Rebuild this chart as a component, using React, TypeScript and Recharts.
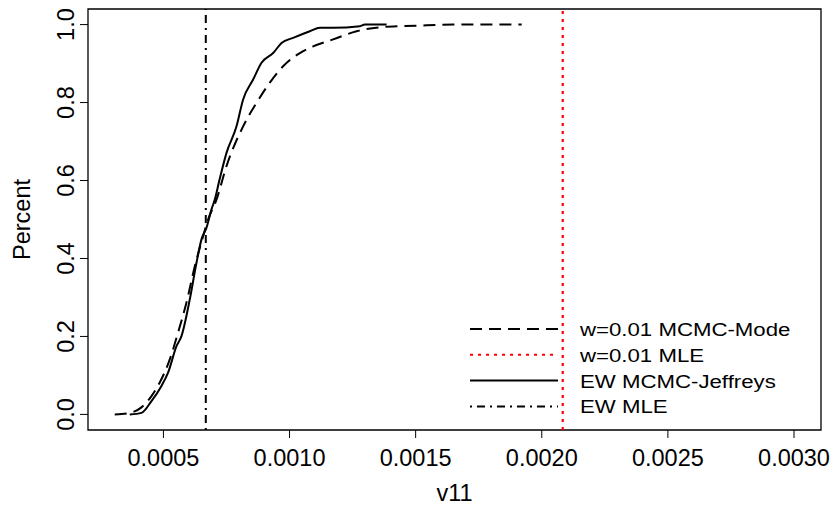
import { Label, Line, LineChart, ReferenceArea, ReferenceLine, XAxis, YAxis } from "recharts";

// ECDF of v11
const modeX = [
  0.000307, 0.0003665, 0.0004129, 0.0004526, 0.0004855, 0.0005252, 0.0005581, 0.0005914,
  0.0006244, 0.0006573, 0.0006771, 0.0007104, 0.0007501, 0.000816, 0.0008691, 0.0009219,
  0.0009746, 0.0010409, 0.0010936, 0.0011729, 0.0012658, 0.0013582, 0.0014506, 0.0015434,
  0.001649, 0.0019203,
];
const modeY = [
  0, 0.004, 0.018, 0.047, 0.082, 0.141, 0.21, 0.287, 0.38, 0.457, 0.5, 0.551, 0.637, 0.739,
  0.799, 0.851, 0.893, 0.927, 0.944, 0.962, 0.983, 0.993, 0.996, 0.998, 1, 1,
];

const jeffreysX = [
  0.0003665, 0.0004129, 0.0004526, 0.0004923, 0.0005184, 0.0005518, 0.0005716, 0.0006045,
  0.0006311, 0.0006509, 0.0006708, 0.0006906, 0.0007037, 0.0007235, 0.0007501, 0.0007898,
  0.000816, 0.0008556, 0.0008889, 0.000935, 0.0009683, 0.0010143, 0.0010805, 0.0011202,
  0.0011729, 0.0012789, 0.0012987, 0.0013848,
];
const jeffreysY = [
  0, 0.004, 0.034, 0.073, 0.107, 0.175, 0.201, 0.295, 0.389, 0.449, 0.479, 0.526, 0.551, 0.605,
  0.671, 0.739, 0.808, 0.859, 0.902, 0.927, 0.953, 0.966, 0.983, 0.992, 0.992, 0.996, 1, 1,
];

const w001Mle = 0.002083;
const ewMle = 0.000668;

const xTicks = [0.0005, 0.001, 0.0015, 0.002, 0.0025, 0.003];
const yTicks = [0, 0.2, 0.4, 0.6, 0.8, 1];
const xDomain = [0.000201, 0.003107];
const yDomain = [-0.04, 1.04];

const legendItems = [
  { label: "w=0.01 MCMC-Mode", color: "#000", dash: "12 7" },
  { label: "w=0.01 MLE", color: "#ff0000", dash: "3 5" },
  { label: "EW MCMC-Jeffreys", color: "#000", dash: undefined },
  { label: "EW MLE", color: "#000", dash: "2 5 8 5" },
];

const FONT = "'Liberation Sans', Arial, sans-serif";

const modeData = modeX.map((x, i) => ({ x, y: modeY[i] }));
const jeffreysData = jeffreysX.map((x, i) => ({ x, y: jeffreysY[i] }));

function YTick(props: any) {
  const { x, y, payload } = props;
  return (
    <text
      x={x - 4}
      y={y}
      transform={`rotate(-90, ${x - 4}, ${y})`}
      textAnchor="middle"
      fontSize={23.5}
      fontFamily={FONT}
      fill="#000"
    >
      {payload.value.toFixed(1)}
    </text>
  );
}

function LegendBox() {
  return (
    <svg width={370} height={115} style={{ position: "absolute", left: 460, top: 312 }}>
      {legendItems.map((item, i) => {
        const cy = 17 + i * 25.8;
        return (
          <g key={item.label}>
            <line
              x1={10}
              x2={98}
              y1={cy}
              y2={cy}
              stroke={item.color}
              strokeWidth={2}
              strokeDasharray={item.dash}
            />
            <text
              x={0}
              y={cy + 7}
              transform={`translate(120,0) scale(1.17,1)`}
              fontSize={19}
              fontFamily={FONT}
              fill="#000"
            >
              {item.label}
            </text>
          </g>
        );
      })}
    </svg>
  );
}

export default function App() {
  return (
    <div style={{ position: "absolute", left: 0, top: 0, width: 832, height: 506, background: "#fff" }}>
      <LineChart width={832} height={506} margin={{ top: 9, right: 11, bottom: 0, left: 0 }}>
        <XAxis
          type="number"
          dataKey="x"
          domain={xDomain}
          allowDataOverflow
          ticks={xTicks}
          tickFormatter={(v: number) => v.toFixed(4)}
          axisLine={false}
          tickSize={8}
          tickMargin={11}
          tickLine={{ stroke: "#000" }}
          tick={{ fill: "#000", fontSize: 23.5, fontFamily: FONT }}
          height={76}
        >
          <Label value="v11" position="insideBottom" offset={5} fill="#000" fontSize={23.5} fontFamily={FONT} />
        </XAxis>
        <YAxis
          type="number"
          dataKey="y"
          domain={yDomain}
          allowDataOverflow
          ticks={yTicks}
          axisLine={false}
          tickSize={8}
          tickMargin={2}
          tickLine={{ stroke: "#000" }}
          tick={<YTick />}
          width={88}
          label={{
            content: (p: any) => {
              const vb = p.viewBox;
              const cx = 29.5;
              const cy = vb.y + vb.height / 2;
              return (
                <text
                  x={cx}
                  y={cy}
                  transform={`rotate(-90, ${cx}, ${cy})`}
                  textAnchor="middle"
                  fontSize={23.5}
                  fontFamily={FONT}
                  fill="#000"
                >
                  Percent
                </text>
              );
            },
          }}
        />
        <ReferenceArea
          x1={xDomain[0]}
          x2={xDomain[1]}
          y1={yDomain[0]}
          y2={yDomain[1]}
          fill="none"
          stroke="#000"
          strokeWidth={1.3}
          ifOverflow="visible"
        />
        <ReferenceLine x={w001Mle} stroke="#ff0000" strokeWidth={2.2} strokeDasharray="3 5" />
        <ReferenceLine x={ewMle} stroke="#000" strokeWidth={2} strokeDasharray="2 5 8 5" />
        <Line
          data={modeData}
          dataKey="y"
          type="monotone"
          stroke="#000"
          strokeWidth={2}
          strokeDasharray="12 7"
          dot={false}
          isAnimationActive={false}
        />
        <Line
          data={jeffreysData}
          dataKey="y"
          type="monotone"
          stroke="#000"
          strokeWidth={2}
          dot={false}
          isAnimationActive={false}
        />
      </LineChart>
      <LegendBox />
    </div>
  );
}
